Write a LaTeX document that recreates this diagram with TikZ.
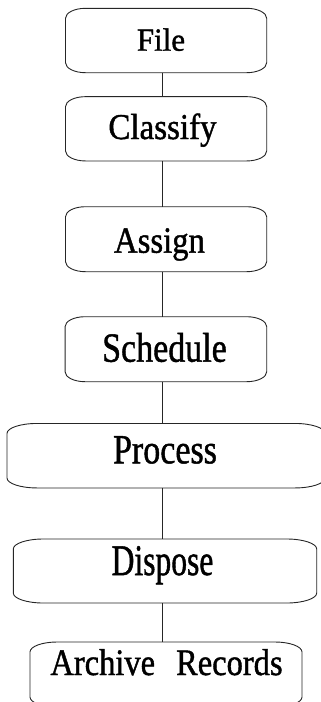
\documentclass[tikz,border=0pt]{standalone}
\usepackage{fontspec}
\setmainfont{Liberation Serif}
\newfontfamily\stepfont{Liberation Serif}[RawFeature={embolden=1.2}]
\usetikzlibrary{calc}

% label text: font size, vertical stretch, text
\newcommand\labeltext[3]{\stepfont\fontsize{#1}{#1}\selectfont\scalebox{1}[#2]{#3}}

% outline of a box node with elliptical corners: node, x radius, y radius
\newcommand\ovalframe[3]{%
  \draw[frame] let \p1=(#1.north west), \p2=(#1.south east),
    \n1={#2}, \n2={#3}, \n3={0.4477*#2}, \n4={0.4477*#3} in
    (\x1,{\y1-\n2}) .. controls (\x1,{\y1-\n4}) and ({\x1+\n3},\y1) .. ({\x1+\n1},\y1)
    -- ({\x2-\n1},\y1) .. controls ({\x2-\n3},\y1) and (\x2,{\y1-\n4}) .. (\x2,{\y1-\n2})
    -- (\x2,{\y2+\n2}) .. controls (\x2,{\y2+\n4}) and ({\x2-\n3},\y2) .. ({\x2-\n1},\y2)
    -- ({\x1+\n1},\y2) .. controls ({\x1+\n3},\y2) and (\x1,{\y2+\n4}) .. (\x1,{\y2+\n2})
    -- cycle;}

\tikzset{
  boxnode/.style={inner sep=0pt, outer sep=0pt, draw=none},
  frame/.style={draw=black!85, line width=0.9pt, fill=white},
  link/.style={draw=black!85, line width=0.9pt},
  lbl/.style={anchor=base, inner sep=0pt, outer sep=0pt, text=black},
}

\begin{document}
\begin{tikzpicture}[x=1pt, y=1pt]
  \useasboundingbox (0,0) rectangle (321,-702);
  \clip (0,0) rectangle (321,-702);

  % step boxes
  \node[boxnode, minimum width=201.2pt, minimum height=64.4pt] (file)     at (166.1,-40.5) {};
  \node[boxnode, minimum width=201.2pt, minimum height=64.3pt] (classify) at (166.1,-128.8) {};
  \node[boxnode, minimum width=201.2pt, minimum height=65pt]   (assign)   at (166.1,-239.2) {};
  \node[boxnode, minimum width=201.7pt, minimum height=65pt]   (schedule) at (165.9,-349.2) {};
  \node[boxnode, minimum width=318pt,   minimum height=64.5pt] (process)  at (166,-455.7) {};
  \node[boxnode, minimum width=303.4pt, minimum height=64pt]   (dispose)  at (165,-571) {};
  \node[boxnode, minimum width=272pt,   minimum height=65pt]   (archive)  at (166,-674.5) {};

  \ovalframe{file}{20pt}{10pt}
  \ovalframe{classify}{20pt}{10pt}
  \ovalframe{assign}{20pt}{10pt}
  \ovalframe{schedule}{20pt}{10pt}
  \ovalframe{process}{30pt}{10pt}
  \ovalframe{dispose}{30pt}{10pt}
  \ovalframe{archive}{27pt}{10pt}

  % connectors along one vertical line
  \coordinate (spine) at (162.3,0);
  \draw[link] (file.south -| spine)     -- (classify.north -| spine);
  \draw[link] (classify.south -| spine) -- (assign.north -| spine);
  \draw[link] (assign.south -| spine)   -- (schedule.north -| spine);
  \draw[link] (schedule.south -| spine) -- (process.north -| spine);
  \draw[link] (process.south -| spine)  -- (dispose.north -| spine);
  \draw[link] (dispose.south -| spine)  -- (archive.north -| spine);

  % labels
  \node[lbl] (file-text)     at (161,-50.7)  {\labeltext{31}{1.04}{File}};
  \node[lbl] (classify-text) at (162.5,-139) {\labeltext{33}{1.1}{Classify}};
  \node[lbl] (assign-text)   at (159.5,-252.7) {\labeltext{32.7}{1.13}{Assign}};
  \node[lbl] (schedule-text) at (164.5,-361.7) {\labeltext{34}{1.22}{Schedule}};
  \node[lbl] (process-text)  at (165,-463.3) {\labeltext{34}{1.22}{Process}};
  \node[lbl] (dispose-text)  at (162.5,-575) {\labeltext{31.6}{1.38}{Dispose}};
  \node[lbl] (archive-text)  at (166.5,-675) {\labeltext{32.5}{1.15}{Archive\hspace{21pt}Records}};
\end{tikzpicture}
\end{document}
